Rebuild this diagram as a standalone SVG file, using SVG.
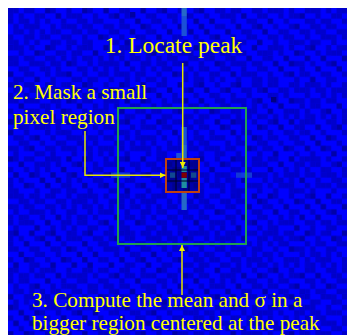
<svg xmlns="http://www.w3.org/2000/svg" width="347" height="335" viewBox="0 0 347 335">
  <defs>
    <style>
      .lbl { font-family: "Liberation Serif", "Times New Roman", serif; fill: #ffff00; }
      .conn { stroke: #e6e600; stroke-width: 1.5; fill: none; }
      .a { fill: #0000c8; }
      .b { fill: #000070; opacity: 0.35; }
      .lite { fill: #1a50d8; }
      .lite2 { fill: #2568c8; }
    </style>
    <pattern id="noiseA" patternUnits="userSpaceOnUse" x="8" y="8" width="37.1" height="37.1">
      <rect class="a" x="0" y="0" width="5.3" height="5.3"/>
      <rect class="a" x="5.3" y="0" width="5.3" height="5.3"/>
      <rect class="a" x="21.2" y="0" width="5.3" height="5.3"/>
      <rect class="a" x="10.6" y="5.3" width="5.3" height="5.3"/>
      <rect class="a" x="26.5" y="5.3" width="5.3" height="5.3"/>
      <rect class="a" x="31.8" y="5.3" width="5.3" height="5.3"/>
      <rect class="a" x="0" y="10.6" width="5.3" height="5.3"/>
      <rect class="a" x="15.9" y="10.6" width="5.3" height="5.3"/>
      <rect class="a" x="5.3" y="15.9" width="5.3" height="5.3"/>
      <rect class="a" x="21.2" y="15.9" width="5.3" height="5.3"/>
      <rect class="a" x="26.5" y="15.9" width="5.3" height="5.3"/>
      <rect class="a" x="10.6" y="21.2" width="5.3" height="5.3"/>
      <rect class="a" x="31.8" y="21.2" width="5.3" height="5.3"/>
      <rect class="a" x="0" y="26.5" width="5.3" height="5.3"/>
      <rect class="a" x="15.9" y="26.5" width="5.3" height="5.3"/>
      <rect class="a" x="21.2" y="26.5" width="5.3" height="5.3"/>
      <rect class="a" x="5.3" y="31.8" width="5.3" height="5.3"/>
      <rect class="a" x="26.5" y="31.8" width="5.3" height="5.3"/>
    </pattern>
    <pattern id="noiseB" patternUnits="userSpaceOnUse" x="8" y="8" width="58.3" height="58.3">
      <rect class="b" x="0" y="5.3" width="5.3" height="5.3"/>
      <rect class="b" x="15.9" y="0" width="5.3" height="5.3"/>
      <rect class="b" x="37.1" y="0" width="5.3" height="5.3"/>
      <rect class="b" x="47.7" y="5.3" width="5.3" height="5.3"/>
      <rect class="b" x="10.6" y="10.6" width="5.3" height="5.3"/>
      <rect class="b" x="26.5" y="10.6" width="5.3" height="5.3"/>
      <rect class="b" x="53" y="15.9" width="5.3" height="5.3"/>
      <rect class="b" x="15.9" y="15.9" width="5.3" height="5.3"/>
      <rect class="b" x="5.3" y="21.2" width="5.3" height="5.3"/>
      <rect class="b" x="21.2" y="21.2" width="5.3" height="5.3"/>
      <rect class="b" x="42.4" y="21.2" width="5.3" height="5.3"/>
      <rect class="b" x="31.8" y="26.5" width="5.3" height="5.3"/>
      <rect class="b" x="0" y="31.8" width="5.3" height="5.3"/>
      <rect class="b" x="15.9" y="31.8" width="5.3" height="5.3"/>
      <rect class="b" x="47.7" y="31.8" width="5.3" height="5.3"/>
      <rect class="b" x="10.6" y="37.1" width="5.3" height="5.3"/>
      <rect class="b" x="37.1" y="37.1" width="5.3" height="5.3"/>
      <rect class="b" x="26.5" y="42.4" width="5.3" height="5.3"/>
      <rect class="b" x="53" y="42.4" width="5.3" height="5.3"/>
      <rect class="b" x="5.3" y="47.7" width="5.3" height="5.3"/>
      <rect class="b" x="21.2" y="47.7" width="5.3" height="5.3"/>
      <rect class="b" x="42.4" y="47.7" width="5.3" height="5.3"/>
      <rect class="b" x="0" y="53" width="5.3" height="5.3"/>
      <rect class="b" x="31.8" y="53" width="5.3" height="5.3"/>
      <rect class="b" x="47.7" y="53" width="5.3" height="5.3"/>
    </pattern>
    <marker id="arrow" viewBox="0 0 10 10" refX="10" refY="5" markerWidth="4" markerHeight="4" orient="auto" markerUnits="strokeWidth">
      <path d="M0,0 L10,5 L0,10 z" fill="#f0f000"/>
    </marker>
  </defs>

  <!-- background image -->
  <rect x="0" y="0" width="347" height="335" fill="#ffffff"/>
  <rect x="8" y="8" width="339" height="327" fill="#0000ff"/>
  <rect x="8" y="8" width="339" height="327" fill="url(#noiseA)"/>
  <rect x="8" y="8" width="339" height="327" fill="url(#noiseB)"/>

  <!-- bright streaks -->
  <rect class="lite2" x="181.5" y="8" width="5.3" height="8"/>
  <rect class="lite" x="181.5" y="16" width="5.3" height="20"/>
  <rect class="lite" x="181.5" y="127" width="5.3" height="18"/>
  <rect class="lite2" x="181.5" y="145" width="5.3" height="14"/>
  <rect class="lite" x="176.2" y="153" width="5.3" height="5.3"/>
  <rect class="lite2" x="181.5" y="192" width="5.3" height="18"/>
  <rect class="lite" x="111" y="172.5" width="19" height="5.3" opacity="0.7"/>
  <rect class="lite" x="236" y="172.5" width="16" height="5.3" opacity="0.7"/>
  <rect fill="#000080" x="271" y="97" width="5.3" height="5.3"/>
  <rect fill="#0000a0" x="130" y="12" width="5.3" height="5.3"/>

  <!-- region box (bigger region) -->
  <g id="region-box">
    <rect x="118" y="108" width="128" height="136" fill="none" stroke="#22a050" stroke-width="2"/>
  </g>

  <!-- mask box (small pixel region) -->
  <g id="mask-box">
    <rect x="166" y="159" width="33" height="33" fill="#000060" fill-opacity="0.55"/>
    <rect x="181.5" y="166" width="5.3" height="6" fill="#1f8fa0"/>
    <rect x="181.5" y="172.5" width="5.3" height="5.3" fill="#800000"/>
    <rect x="181.5" y="178" width="5.3" height="10" fill="#1f8fa0"/>
    <rect x="170" y="172.5" width="5.3" height="5.3" fill="#104890"/>
    <rect x="191" y="172.5" width="5.3" height="5.3" fill="#104890"/>
    <g stroke="#000020" stroke-width="1">
      <line x1="176" y1="160" x2="176" y2="191"/>
      <line x1="189" y1="160" x2="189" y2="191"/>
      <line x1="167" y1="170" x2="198" y2="170"/>
      <line x1="167" y1="181" x2="198" y2="181"/>
    </g>
    <rect x="166" y="159" width="33" height="33" fill="none" stroke="#c04010" stroke-width="2"/>
  </g>

  <!-- connectors -->
  <g id="connectors">
    <path class="conn" d="M182.7,63 L182.7,168" marker-end="url(#arrow)"/>
    <path class="conn" d="M85,131 L85,175.3 L165.5,175.3" marker-end="url(#arrow)"/>
    <path class="conn" d="M182,295 L182,245" marker-end="url(#arrow)"/>
  </g>

  <!-- labels -->
  <g id="label1">
    <text class="lbl" x="173.5" y="52.5" font-size="23.5" text-anchor="middle">1. Locate peak</text>
  </g>
  <g id="label2">
    <text class="lbl" x="13" y="99" font-size="21.2">2. Mask a small</text>
    <text class="lbl" x="13" y="124" font-size="21.2">pixel region</text>
  </g>
  <g id="label3">
    <text class="lbl" x="32" y="307" font-size="21.2">3. Compute the mean and σ in a</text>
    <text class="lbl" x="32" y="329.5" font-size="21.2">bigger region centered at the peak</text>
  </g>
</svg>
